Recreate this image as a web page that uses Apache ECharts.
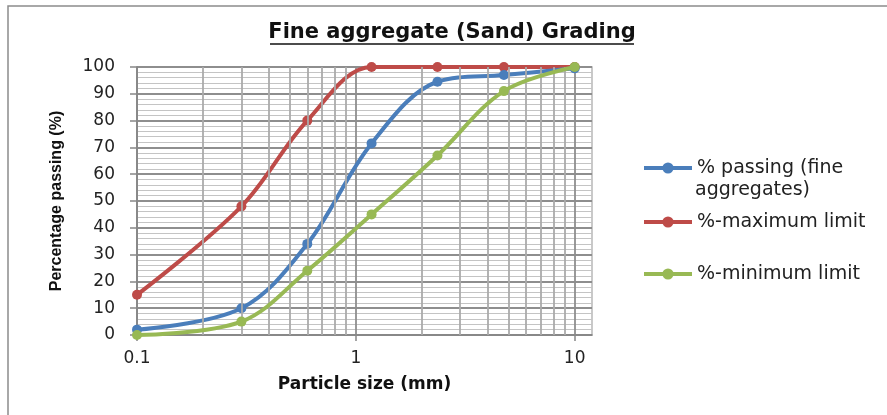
<!DOCTYPE html>
<html>
<head>
<meta charset="utf-8">
<script src="https://cdn.jsdelivr.net/npm/echarts@6/dist/echarts.min.js"></script>
<style>html,body{margin:0;padding:0;background:#fff;}#c{width:887px;height:415px;}</style>
</head>
<body>
<div id="c"></div>
<script>
const sieveSizes = [0.1, 0.3, 0.6, 1.18, 2.36, 4.75, 10];
const passing = [2, 10, 34, 71.5, 94.5, 97, 99.5];
const maxLimit = [15, 48, 80, 100, 100, 100, 100];
const minLimit = [0, 5, 24, 45, 67, 91, 100];
const xTickValues = [0.1, 1, 10];
const xMinorGrid = [0.2, 0.3, 0.4, 0.5, 0.6, 0.7, 0.8, 0.9, 2, 3, 4, 5, 6, 7, 8, 9];
const seriesNames = ['% passing (fine aggregates)', '%-maximum limit', '%-minimum limit'];
const colors = ['#4A7EBB', '#BE4B48', '#98B954'];

const pairs = arr => sieveSizes.map((x, i) => [x, arr[i]]);
const chart = echarts.init(document.getElementById('c'));
const lineSeries = (name, data, color, z) => ({
  name, type: 'line', data: pairs(data), smooth: 0.35, z,
  symbol: 'circle', symbolSize: 10, showSymbol: true,
  lineStyle: { color, width: 4 }, itemStyle: { color },
  clip: true
});
const legendBase = (name, top) => ({
  data: [name], left: 642, top, padding: 0, orient: 'vertical',
  itemWidth: 48, itemHeight: 14, selectedMode: false,
  lineStyle: { width: 4 },
  textStyle: { fontFamily: 'DejaVu Sans', fontSize: 19, color: '#222', lineHeight: 22, padding: [0, 0, 0, 0] }
});
const l1 = legendBase(seriesNames[0], 157);
l1.formatter = () => '% passing (fine';
chart.setOption({
  animation: false,
  grid: { left: 137, top: 67, right: 295, bottom: 80, show: true, borderColor: '#B8B8B8', borderWidth: 1.5 },
  graphic: [
    { type: 'rect', shape: { x: 8, y: 6, width: 900, height: 430 }, style: { fill: 'none', stroke: '#8C8C8C', lineWidth: 1.5 }, silent: true },
    { type: 'text', x: 452, y: 33, style: { text: 'Fine aggregate (Sand) Grading', fontFamily: 'DejaVu Sans', fontWeight: 'bold', fontSize: 21, fill: '#111', align: 'center', verticalAlign: 'middle' } },
    { type: 'line', shape: { x1: 270, y1: 44, x2: 634, y2: 44 }, style: { stroke: '#111', lineWidth: 1.5 } },
    { type: 'text', x: 695, y: 190, style: { text: 'aggregates)', fontFamily: 'DejaVu Sans', fontSize: 19, fill: '#222', verticalAlign: 'middle' } }
  ],
  legend: [l1, legendBase(seriesNames[1], 211), legendBase(seriesNames[2], 263)],
  xAxis: {
    type: 'log', logBase: 10, min: 0.1, max: 12,
    name: 'Particle size (mm)', nameLocation: 'middle', nameGap: 41,
    nameTextStyle: { fontFamily: 'DejaVu Sans', fontWeight: 'bold', fontSize: 17, color: '#111' },
    axisLine: { show: true, lineStyle: { color: '#868686', width: 1.5 } },
    axisTick: { show: true, length: 6, customValues: xTickValues, lineStyle: { color: '#868686', width: 1.5 } },
    axisLabel: { customValues: xTickValues, margin: 15, fontFamily: 'DejaVu Sans', fontSize: 17, color: '#222',
      formatter: v => String(+(+v).toPrecision(3)) },
    splitLine: { show: true, lineStyle: { color: '#8E8E8E', width: 1.8 } },
    minorTick: { show: false }, minorSplitLine: { show: false }
  },
  yAxis: {
    type: 'value', min: 0, max: 100, interval: 10,
    name: 'Percentage passing (%)', nameLocation: 'middle', nameGap: 72, nameRotate: 90,
    nameTextStyle: { fontFamily: 'Liberation Sans', fontWeight: 'bold', fontSize: 16, color: '#111' },
    axisLine: { show: true, lineStyle: { color: '#868686', width: 1.5 } },
    axisTick: { show: true, length: 7, lineStyle: { color: '#868686', width: 1.5 } },
    axisLabel: { margin: 22, fontFamily: 'DejaVu Sans', fontSize: 17, color: '#222' },
    splitLine: { show: true, lineStyle: { color: '#8E8E8E', width: 1.8 } },
    minorTick: { show: false, splitNumber: 5 },
    minorSplitLine: { show: true, lineStyle: { color: '#C4C4C4', width: 1.2 } }
  },
  series: [
    { name: 'minorGrid', type: 'line', data: [], z: 1, silent: true,
      markLine: { silent: true, symbol: 'none', label: { show: false }, animation: false,
        lineStyle: { color: '#ABABAB', width: 1.8, type: 'solid' },
        data: xMinorGrid.map(v => ({ xAxis: v })) } },
    lineSeries(seriesNames[0], passing, colors[0], 4),
    lineSeries(seriesNames[1], maxLimit, colors[1], 3),
    lineSeries(seriesNames[2], minLimit, colors[2], 5)
  ]
});
</script>
</body>
</html>
